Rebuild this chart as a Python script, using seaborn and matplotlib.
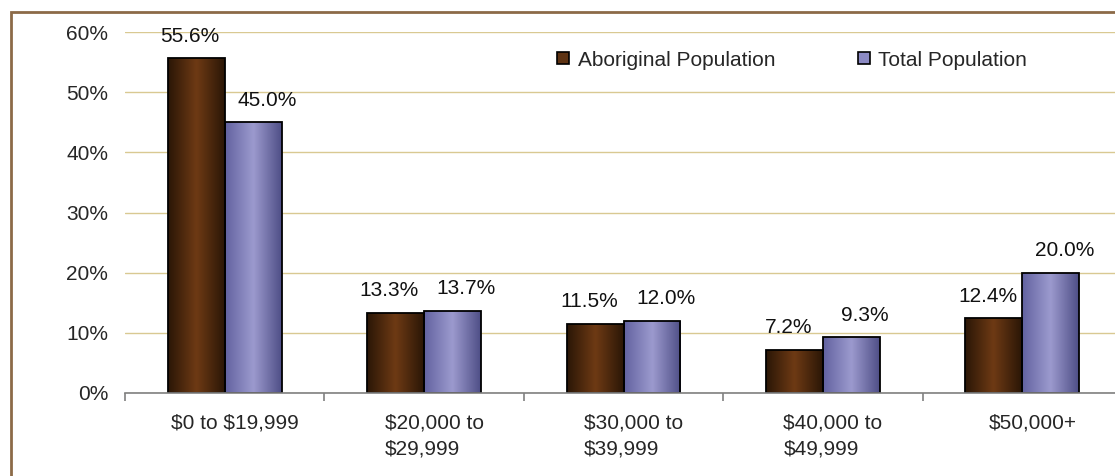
import numpy as np
import pandas as pd
import matplotlib
matplotlib.use("Agg")
import matplotlib.pyplot as plt
import matplotlib.transforms as mtransforms
import seaborn as sns
from matplotlib.colors import LinearSegmentedColormap
from matplotlib.lines import Line2D
from matplotlib.patches import Rectangle

# data
brackets = ["$0 to $19,999", "$20,000 to\n$29,999", "$30,000 to\n$39,999",
            "$40,000 to\n$49,999", "$50,000+"]
aboriginal = [55.6, 13.3, 11.5, 7.2, 12.4]
total = [45.0, 13.7, 12.0, 9.3, 20.0]
groups = ["Aboriginal Population", "Total Population"]
y_ticks = [0, 10, 20, 30, 40, 50, 60]

colors = {"Aboriginal Population": "#5E3313", "Total Population": "#8C8AC4"}
# edge -> centre -> edge shading for each series
shades = {
    "Aboriginal Population": ["#2A1606", "#6E3A14", "#2A1606"],
    "Total Population": ["#6262A0", "#9C9ACE", "#4E4E86"],
}
# value labels sit a little off-centre in the original (points)
label_dx = {"Aboriginal Population": -4.5, "Total Population": 10}

df = pd.DataFrame({
    "bracket": brackets * 2,
    "pct": aboriginal + total,
    "group": [groups[0]] * len(brackets) + [groups[1]] * len(brackets),
})

sns.set_style("white")
plt.rcParams["font.family"] = ["Liberation Sans", "DejaVu Sans"]
plt.rcParams["text.parse_math"] = False
FS = 15

fig = plt.figure(figsize=(11.15, 4.76), dpi=100)
ax = fig.add_axes([125 / 1115, 1 - 393 / 476, 997 / 1115, 361 / 476])

sns.barplot(data=df, x="bracket", y="pct", hue="group", order=brackets,
            hue_order=groups, palette=colors, width=0.57, edgecolor="black",
            linewidth=1.3, saturation=1, ax=ax, legend=False, zorder=3)

# horizontal gradient fill clipped to each bar
for container, grp in zip(ax.containers, groups):
    cmap = LinearSegmentedColormap.from_list(grp, shades[grp])
    grad = np.linspace(0, 1, 256).reshape(1, -1)
    for bar, val in zip(container, container.datavalues):
        x0, y0 = bar.get_x(), bar.get_y()
        w, h = bar.get_width(), bar.get_height()
        im = ax.imshow(grad, cmap=cmap, aspect="auto", extent=(x0, x0 + w, y0, y0 + h),
                       zorder=3.5, interpolation="bicubic")
        im.set_clip_path(bar)
        bar.set_facecolor("none")
        bar.set_zorder(4)
        ax.annotate(f"{val:.1f}%", (x0 + w / 2, y0 + h), xytext=(label_dx[grp], 9),
                    textcoords="offset points", ha="center", va="bottom",
                    fontsize=FS, color="#111111")

ax.set_xlim(-0.5, len(brackets) - 0.5)
ax.set_ylim(0, 60)
ax.set_yticks(y_ticks)
ax.set_yticklabels([f"{t}%" for t in y_ticks])
ax.yaxis.grid(True, color="#D9C992", linewidth=1.0, zorder=0)
ax.set_axisbelow(True)

for side in ["top", "right", "left"]:
    ax.spines[side].set_visible(False)
ax.spines["bottom"].set_color("#808080")
ax.spines["bottom"].set_linewidth(1.2)
ax.spines["bottom"].set_zorder(5)

ax.set_xticks(np.arange(-0.5, len(brackets)), minor=True)
ax.tick_params(axis="x", which="minor", length=6, color="#808080", width=1.2,
               direction="out", bottom=True)
ax.tick_params(axis="x", which="major", length=0, pad=15, labelsize=FS)
ax.tick_params(axis="y", length=0, pad=12, labelsize=FS)
# category labels are nudged a little to the right in the original
shift = mtransforms.ScaledTranslation(10 / 100, 0, fig.dpi_scale_trans)
for lbl in ax.get_xticklabels():
    lbl.set_multialignment("left")
    lbl.set_linespacing(1.45)
    lbl.set_transform(lbl.get_transform() + shift)
ax.set_xlabel("")
ax.set_ylabel("")

handles = [Line2D([], [], marker="s", linestyle="", markersize=8,
                  markerfacecolor=colors[g], markeredgecolor="black",
                  markeredgewidth=1.2) for g in groups]
ax.legend(handles, groups, loc="upper left", bbox_to_anchor=(0.41, 1.0), ncol=2,
          frameon=False, fontsize=FS, handletextpad=0.2, columnspacing=3.75,
          handlelength=1.0)

# outer chart border (only top and left fall inside the image)
fig.patches.append(Rectangle((11 / 1115, -0.2), 1.2, 1 - 12 / 476 + 0.2,
                             transform=fig.transFigure, fill=False,
                             edgecolor="#8C6A48", linewidth=2))

fig.savefig("out.png", dpi=100)
